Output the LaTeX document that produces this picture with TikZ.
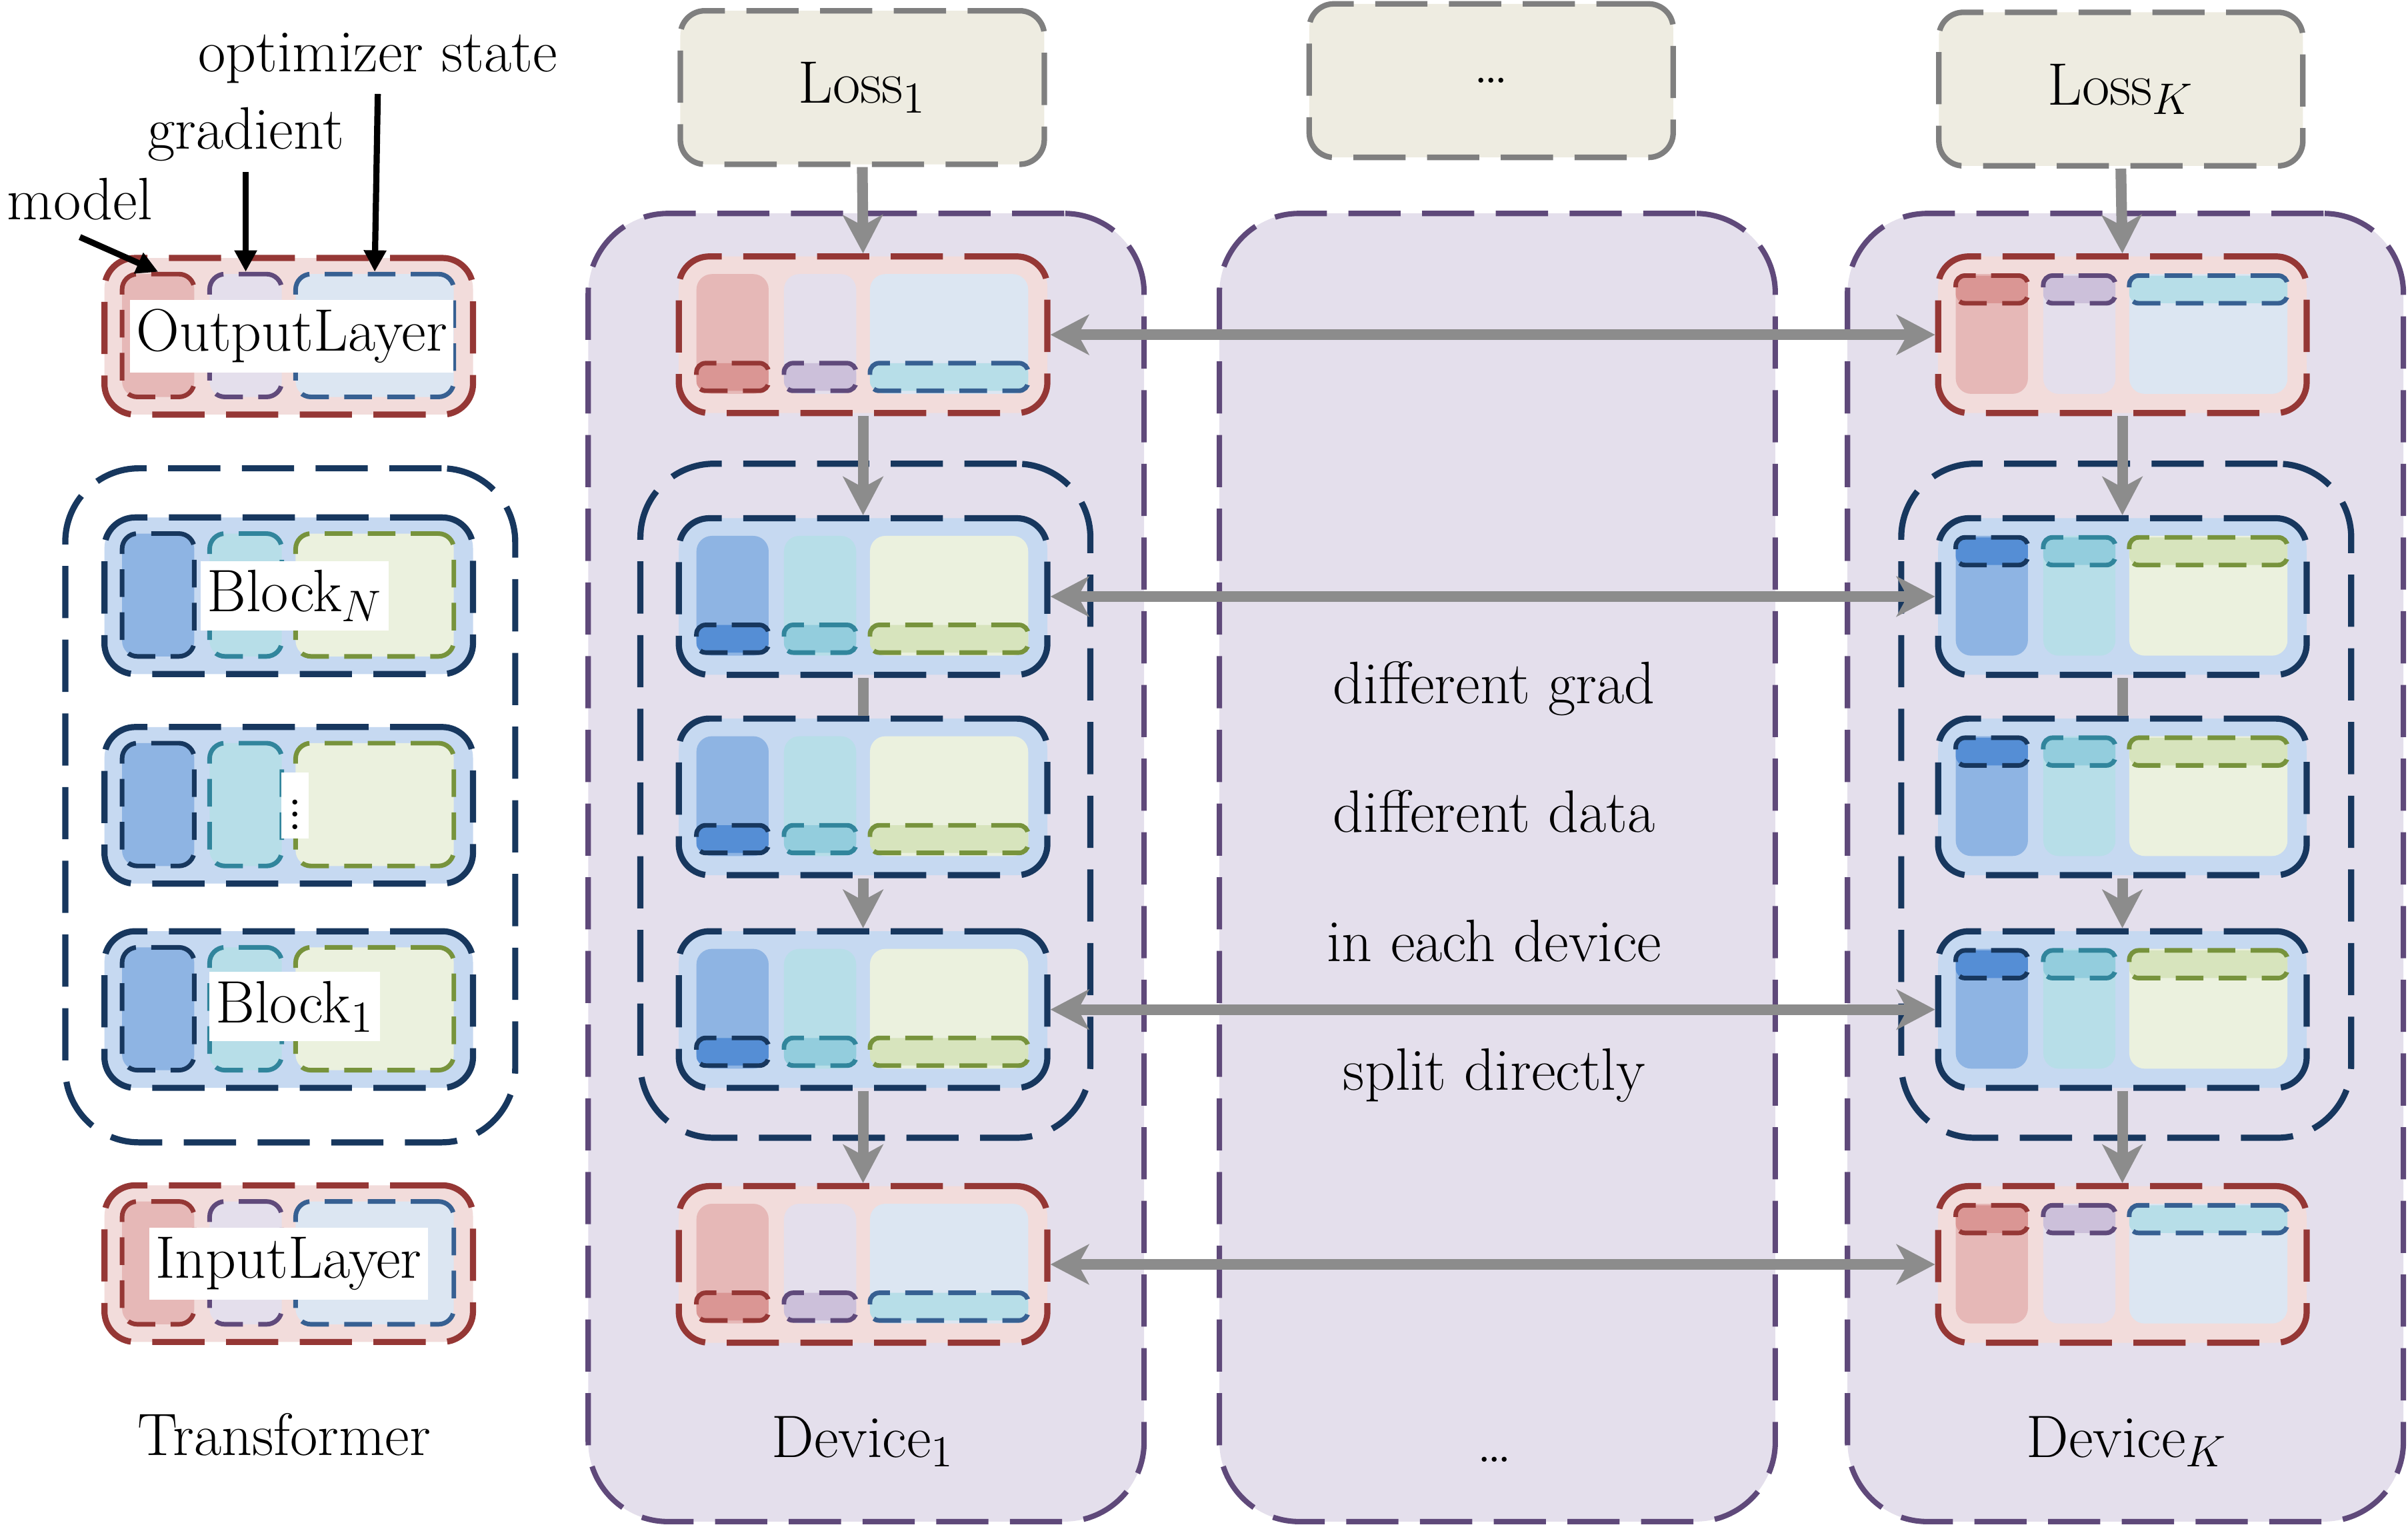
\documentclass[tikz,border=0pt]{standalone}
\usepackage{fontspec}
\usetikzlibrary{arrows.meta,positioning}

\definecolor{lossbg}{HTML}{EEECE1}
\definecolor{lossbd}{HTML}{7F7F7F}
\definecolor{devbg}{HTML}{E4DFEC}
\definecolor{devbd}{HTML}{5F497A}
\definecolor{laybg}{HTML}{F2DCDB}
\definecolor{laybd}{HTML}{953735}
\definecolor{laymf}{HTML}{E6B8B7}
\definecolor{laymb}{HTML}{DA9694}
\definecolor{laymd}{HTML}{953735}
\definecolor{laygf}{HTML}{E4DFEC}
\definecolor{laygb}{HTML}{CCC0DA}
\definecolor{laygd}{HTML}{604A7B}
\definecolor{layof}{HTML}{DCE6F2}
\definecolor{layob}{HTML}{B7DEE8}
\definecolor{layod}{HTML}{376092}
\definecolor{blkbg}{HTML}{C6D9F1}
\definecolor{blkbd}{HTML}{17375E}
\definecolor{blkmf}{HTML}{8EB4E3}
\definecolor{blkmb}{HTML}{558ED5}
\definecolor{blkmd}{HTML}{17375E}
\definecolor{blkgf}{HTML}{B7DEE8}
\definecolor{blkgb}{HTML}{93CDDD}
\definecolor{blkgd}{HTML}{31859C}
\definecolor{blkof}{HTML}{EBF1DE}
\definecolor{blkob}{HTML}{D7E4BD}
\definecolor{blkod}{HTML}{77933C}
\definecolor{flowgray}{HTML}{8C8C8C}

\tikzset{
  longdash/.style={dash pattern=on 17pt off 7pt},
  shortdash/.style={dash pattern=on 9pt off 5pt},
  device/.style={draw=devbd, fill=devbg, line width=1.75pt, longdash, rounded corners=26pt,
    minimum width=181pt, minimum height=426pt, inner sep=0pt},
  group/.style={draw=blkbd, line width=2pt, longdash, rounded corners=24pt,
    minimum width=146.5pt, minimum height=219.5pt, inner sep=0pt},
  loss/.style={draw=lossbd, fill=lossbg, line width=1.8pt, longdash, rounded corners=8pt,
    minimum width=118.5pt, minimum height=50pt, inner sep=0pt},
  layer/.style={line width=2pt, longdash, rounded corners=10pt,
    minimum width=120pt, minimum height=51pt, inner sep=0pt},
  part/.style={anchor=north west, inner sep=0pt, rounded corners=5pt, line width=1.5pt, shortdash},
  strip/.style={part, rounded corners=3pt, minimum height=9pt},
  tag/.style={fill=white, inner xsep=2pt, inner ysep=3pt},
  flow/.style={line width=3.5pt, draw=flowgray, -{Stealth[length=12.5pt,width=13pt,inset=3.5pt]}},
  both/.style={line width=3.5pt, draw=flowgray,
    {Stealth[length=12.5pt,width=13pt,inset=3.5pt]}-{Stealth[length=12.5pt,width=13pt,inset=3.5pt]}},
  callout/.style={line width=2pt, -{Triangle[length=7pt,width=7pt]}}
}

% three dashed parts over the whole height (transformer column)
\newcommand{\fullparts}[2]{%
  \node[part, draw=#2md, fill=#2mf, minimum width=23.5pt, minimum height=40pt] (#1-m) at ([shift={(12,11)}]#1.north west) {};
  \node[part, draw=#2gd, fill=#2gf, minimum width=23.5pt, minimum height=40pt] (#1-g) at ([shift={(69,11)}]#1.north west) {};
  \node[part, draw=#2od, fill=#2of, minimum width=51.5pt, minimum height=40pt] (#1-o) at ([shift={(125,11)}]#1.north west) {};
}
% plain parts with a dashed strip, #3 = top of the strip
\newcommand{\splitparts}[3]{%
  \node[part, fill=#2mf, minimum width=23.5pt, minimum height=39pt] (#1-m) at ([shift={(12,12)}]#1.north west) {};
  \node[part, fill=#2gf, minimum width=23.5pt, minimum height=39pt] (#1-g) at ([shift={(69,12)}]#1.north west) {};
  \node[part, fill=#2of, minimum width=51.5pt, minimum height=39pt] (#1-o) at ([shift={(125,12)}]#1.north west) {};
  \node[strip, draw=#2md, fill=#2mb, minimum width=23.5pt] (#1-ms) at ([shift={(12,#3)}]#1.north west) {};
  \node[strip, draw=#2gd, fill=#2gb, minimum width=23.5pt] (#1-gs) at ([shift={(69,#3)}]#1.north west) {};
  \node[strip, draw=#2od, fill=#2ob, minimum width=51.5pt] (#1-os) at ([shift={(125,#3)}]#1.north west) {};
}

\begin{document}
\begin{tikzpicture}[x=0.5pt, y=-0.5pt, font=\fontsize{19.5}{23}\selectfont]
  \useasboundingbox (0,0) rectangle (1568,993);

  % devices
  \node[device] (dev1) at (564,565) {};
  \node[device] (devmid) at (975,565) {};
  \node[device] (devK) at (1384,565) {};

  % groups of blocks
  \node[group] (tgroup) at (189,524.5) {};
  \node[group] (agroup) at (563.5,521.5) {};
  \node[group] (kgroup) at (1384.5,521.5) {};

  % losses
  \node[loss] (loss1) at (561.5,57) {Loss$_1$};
  \node[loss] (lossdots) at (971,52.5) {\ldots};
  \node[loss] (lossK) at (1381,58) {Loss$_K$};

  % transformer
  \node[layer, fill=laybg, draw=laybd] (tout) at (188,219) {};
  \fullparts{tout}{lay}
  \node[layer, fill=blkbg, draw=blkbd] (tbN) at (188,388) {};
  \fullparts{tbN}{blk}
  \node[layer, fill=blkbg, draw=blkbd] (tbdots) at (188,524.5) {};
  \fullparts{tbdots}{blk}
  \node[layer, fill=blkbg, draw=blkbd] (tb1) at (188,657.5) {};
  \fullparts{tb1}{blk}
  \node[layer, fill=laybg, draw=laybd] (tin) at (188,823) {};
  \fullparts{tin}{lay}

  \node[tag] (tout-tag) at ([xshift=1pt]tout.center) {OutputLayer};
  \node[tag] (tbN-tag) at ([xshift=2pt]tbN.center) {Block$_N$};
  \node[tag] (tbdots-tag) at ([xshift=2pt]tbdots.center) {$\vdots$};
  \node[tag] (tb1-tag) at ([xshift=2pt,yshift=1pt]tb1.center) {Block$_1$};
  \node[tag] (tin-tag) at (tin.center) {InputLayer};

  % device 1
  \node[layer, fill=laybg, draw=laybd] (aout) at (562,218) {};
  \splitparts{aout}{lay}{70}
  \node[layer, fill=blkbg, draw=blkbd] (aba) at (562,388.5) {};
  \splitparts{aba}{blk}{70}
  \node[layer, fill=blkbg, draw=blkbd] (abb) at (562,519) {};
  \splitparts{abb}{blk}{70}
  \node[layer, fill=blkbg, draw=blkbd] (abc) at (562,657.5) {};
  \splitparts{abc}{blk}{70}
  \node[layer, fill=laybg, draw=laybd] (ain) at (562,823.5) {};
  \splitparts{ain}{lay}{70}

  % device K
  \node[layer, fill=laybg, draw=laybd] (kout) at (1382,218) {};
  \splitparts{kout}{lay}{13}
  \node[layer, fill=blkbg, draw=blkbd] (kba) at (1382,388.5) {};
  \splitparts{kba}{blk}{13}
  \node[layer, fill=blkbg, draw=blkbd] (kbb) at (1382,519) {};
  \splitparts{kbb}{blk}{13}
  \node[layer, fill=blkbg, draw=blkbd] (kbc) at (1382,657.5) {};
  \splitparts{kbc}{blk}{13}
  \node[layer, fill=laybg, draw=laybd] (kin) at (1382,823.5) {};
  \splitparts{kin}{lay}{13}

  % flow inside the devices
  \draw[flow] (loss1.south) -- (aout.north);
  \draw[flow] (aout.south) -- (aba.north);
  \draw[line width=3.5pt, draw=flowgray] (aba.south) -- (abb.north);
  \draw[flow] (abb.south) -- (abc.north);
  \draw[flow] (abc.south) -- (ain.north);
  \draw[flow] (lossK.south) -- (kout.north);
  \draw[flow] (kout.south) -- (kba.north);
  \draw[line width=3.5pt, draw=flowgray] (kba.south) -- (kbb.north);
  \draw[flow] (kbb.south) -- (kbc.north);
  \draw[flow] (kbc.south) -- (kin.north);

  % between the devices
  \draw[both] (aout.east) -- (kout.west);
  \draw[both] (aba.east) -- (kba.west);
  \draw[both] (abc.east) -- (kbc.west);
  \draw[both] (ain.east) -- (kin.west);

  % legend
  \node[anchor=base] (optstate) at (246,46.5) {optimizer state};
  \node[anchor=base] (grad) at (160,97) {gradient};
  \node[anchor=base] (model) at (52,143) {model};
  \draw[callout] (optstate.south) -- (tout-o.north);
  \draw[callout] (grad.south) -- (tout-g.north);
  \draw[callout] ([yshift=-2pt]model.south) -- (tout-m.north);

  \foreach \txt [count=\i] in {different grad, different data, in each device, split directly}
    \node[anchor=base] (note\i) at (973,374+84*\i) {\txt};

  \node[anchor=base] (tname) at (185,948) {Transformer};
  \node[anchor=base] (dev1-name) at (562,949) {Device$_1$};
  \node[anchor=base] (devmid-name) at (973,952) {\ldots};
  \node[anchor=base] (devK-name) at (1385,949) {Device$_K$};
\end{tikzpicture}
\end{document}
